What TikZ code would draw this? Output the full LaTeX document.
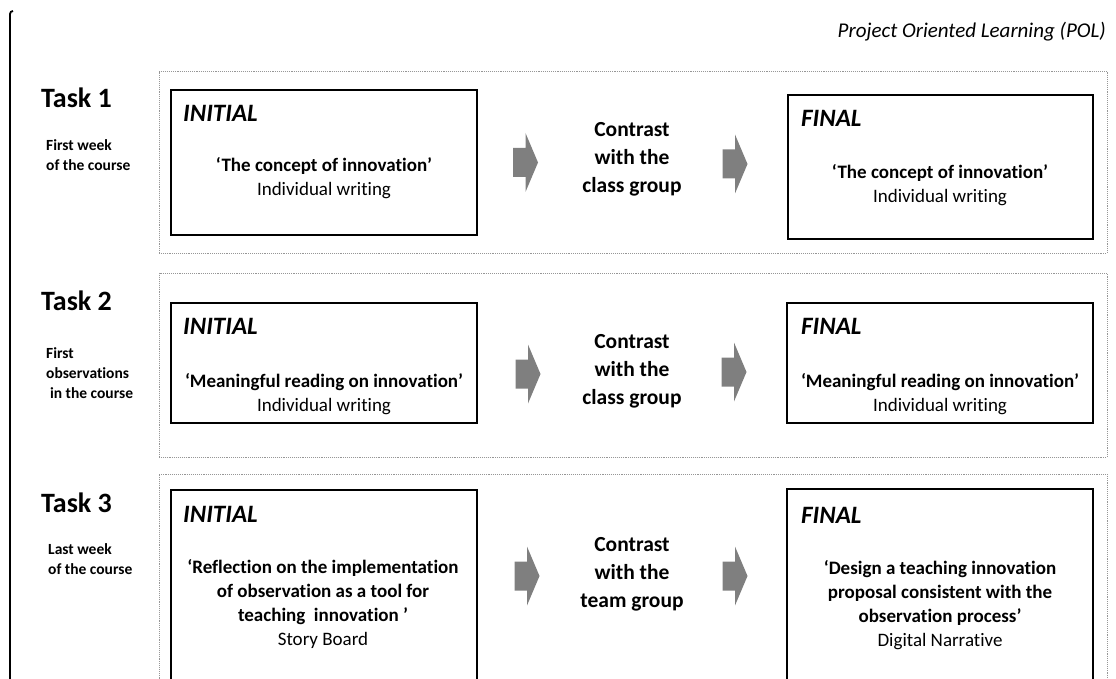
\documentclass[tikz,border=0pt]{standalone}
\usepackage{fontspec}
\setmainfont{Carlito}[Ligatures={NoCommon,NoContextual}]
\definecolor{arrowgray}{RGB}{127,127,127}
\definecolor{framegray}{RGB}{150,150,150}
\begin{document}
\begin{tikzpicture}[x=1pt,y=-1pt,
  frame/.style={draw=framegray, densely dotted, line width=0.9pt},
  stagebox/.style={draw=black, line width=2pt, inner sep=0pt},
  tasklabel/.style={anchor=base west, inner sep=0pt, font=\fontsize{28}{32}\selectfont\bfseries},
  tasknote/.style={anchor=west, inner sep=0pt, align=left, font=\fontsize{15.5}{20}\selectfont\bfseries},
  stagehead/.style={anchor=base west, inner sep=0pt, font=\fontsize{25}{28}\selectfont\bfseries\itshape},
  stagetext/.style={inner sep=0pt, align=center, font=\fontsize{19}{24}\selectfont\bfseries},
  contrast/.style={inner sep=0pt, align=center, font=\fontsize{21.5}{28}\selectfont\bfseries},
  blockarrow/.style={fill=arrowgray, draw=none}
]
\clip (0,0) rectangle (1116,679);

% left margin rule
\draw[line width=1.8pt] (10,679) -- (10,14) to[out=90,in=180] (13,11);

% heading
\node[anchor=base east, inner sep=0pt, font=\fontsize{21}{24}\selectfont\itshape] (title) at (1106,38) {Project Oriented Learning (POL)};

% dotted frames of the three tasks
\node[frame, minimum width=948pt, minimum height=182pt, inner sep=0pt] (row1) at (633,162) {};
\node[frame, minimum width=948pt, minimum height=184pt, inner sep=0pt] (row2) at (633,365) {};
\node[frame, minimum width=948pt, minimum height=246pt, inner sep=0pt] (row3) at (633,597) {};

% ---------- Task 1 ----------
\node[tasklabel] (t1) at (41,108) {Task 1};
\node[tasknote] (t1n) at (46,155) {First week\\of the course};

\node[stagebox, minimum width=306pt, minimum height=145pt] (i1) at (324,162.5) {};
\node[stagehead] (i1h) at (183,122) {INITIAL};
\node[stagetext] (i1t) at (324,178) {‘The concept of innovation’\\{\mdseries Individual writing}};

\node[stagebox, minimum width=305pt, minimum height=144pt] (f1) at (940.5,167) {};
\node[stagehead] (f1h) at (801,127) {FINAL};
\node[stagetext] (f1t) at (940,185) {‘The concept of innovation’\\{\mdseries Individual writing}};

\node[contrast] (c1) at (632,159) {Contrast\\with the\\class group};
\coordinate (a1) at (525.5,162.5);
\coordinate (b1) at (735,164);
\fill[blockarrow] (a1) ++(-12.5,-14.5) -- ++(12.5,0) -- ++(0,-15) -- ++(12.5,29.5) -- ++(-12.5,29.5) -- ++(0,-15) -- ++(-12.5,0) -- cycle;
\fill[blockarrow] (b1) ++(-12.5,-14.5) -- ++(12.5,0) -- ++(0,-15) -- ++(12.5,29.5) -- ++(-12.5,29.5) -- ++(0,-15) -- ++(-12.5,0) -- cycle;

% ---------- Task 2 ----------
\node[tasklabel] (t2) at (41,310) {Task 2};
\node[tasknote] (t2n) at (46,373) {First\\observations\\\hspace{0.25em}in the course};

\node[stagebox, minimum width=306pt, minimum height=120pt] (i2) at (324,363) {};
\node[stagehead] (i2h) at (183,334) {INITIAL};
\node[stagetext] (i2t) at (324,394) {‘Meaningful reading on innovation’\\{\mdseries Individual writing}};

\node[stagebox, minimum width=306pt, minimum height=120pt] (f2) at (940,363) {};
\node[stagehead] (f2h) at (801,334) {FINAL};
\node[stagetext] (f2t) at (940,394) {‘Meaningful reading on innovation’\\{\mdseries Individual writing}};

\node[contrast] (c2) at (632,371) {Contrast\\with the\\class group};
\coordinate (a2) at (528,374);
\coordinate (b2) at (734,372);
\fill[blockarrow] (a2) ++(-12.5,-14.5) -- ++(12.5,0) -- ++(0,-15) -- ++(12.5,29.5) -- ++(-12.5,29.5) -- ++(0,-15) -- ++(-12.5,0) -- cycle;
\fill[blockarrow] (b2) ++(-12.5,-14.5) -- ++(12.5,0) -- ++(0,-15) -- ++(12.5,29.5) -- ++(-12.5,29.5) -- ++(0,-15) -- ++(-12.5,0) -- cycle;

% ---------- Task 3 ----------
\node[tasklabel] (t3) at (41,512) {Task 3};
\node[tasknote] (t3n) at (48,559) {Last week\\of the course};

\node[stagebox, minimum width=306pt, minimum height=230pt] (i3) at (324,605) {};
\node[stagehead] (i3h) at (183,522) {INITIAL};
\node[stagetext] (i3t) at (323,604) {‘Reflection on the implementation\\of observation as a tool for\\teaching\ \ innovation ’\\{\mdseries Story Board}};

\node[stagebox, minimum width=306pt, minimum height=230pt] (f3) at (940,604) {};
\node[stagehead] (f3h) at (801,523) {FINAL};
\node[stagetext] (f3t) at (940,605) {‘Design a teaching innovation\\proposal consistent with the\\observation process’\\{\mdseries Digital Narrative}};

\node[contrast] (c3) at (632,574) {Contrast\\with the\\team group};
\coordinate (a3) at (527,576);
\coordinate (b3) at (735,576);
\fill[blockarrow] (a3) ++(-12.5,-14.5) -- ++(12.5,0) -- ++(0,-15) -- ++(12.5,29.5) -- ++(-12.5,29.5) -- ++(0,-15) -- ++(-12.5,0) -- cycle;
\fill[blockarrow] (b3) ++(-12.5,-14.5) -- ++(12.5,0) -- ++(0,-15) -- ++(12.5,29.5) -- ++(-12.5,29.5) -- ++(0,-15) -- ++(-12.5,0) -- cycle;
\end{tikzpicture}
\end{document}
